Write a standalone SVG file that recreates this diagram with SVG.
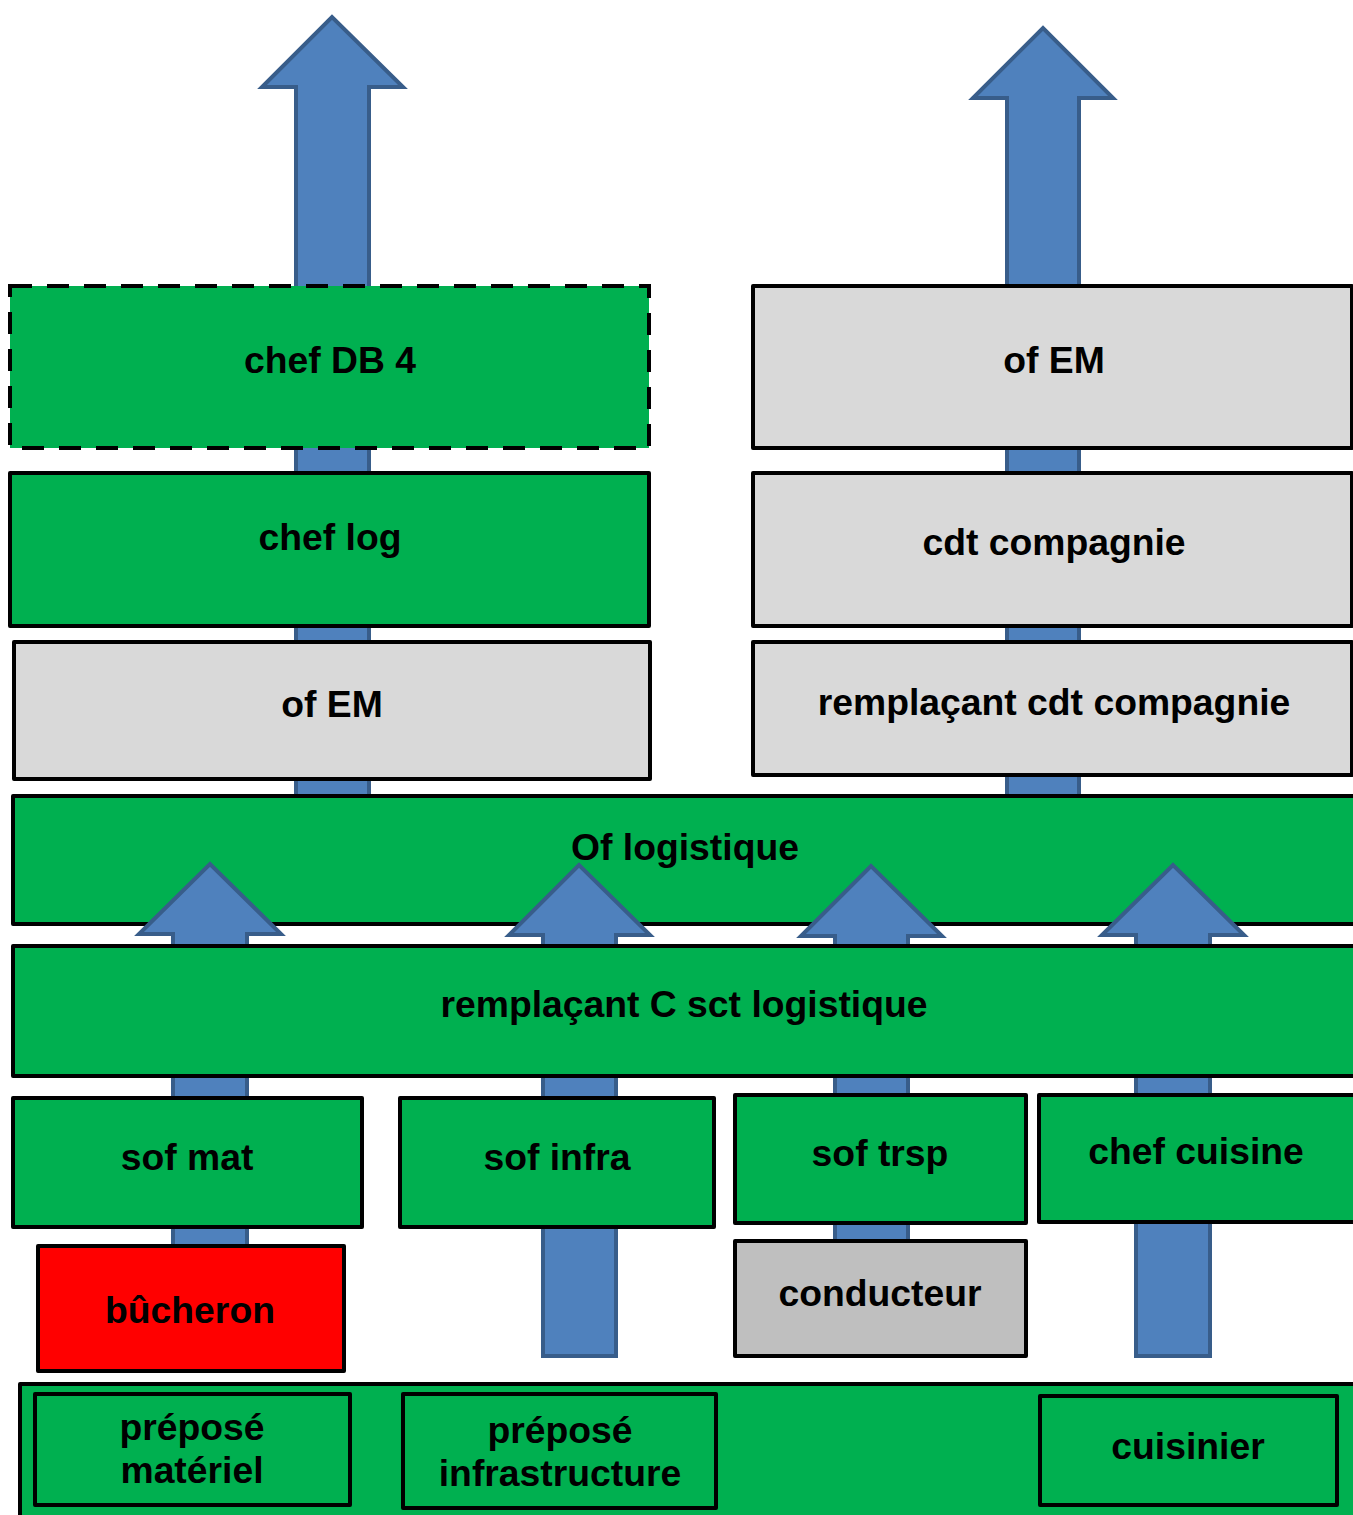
<svg xmlns="http://www.w3.org/2000/svg" width="1353" height="1515" viewBox="0 0 1353 1515">
<style>
.g{fill:#00B050;stroke:#000;stroke-width:4;stroke-linejoin:round}
.l{fill:#D9D9D9;stroke:#000;stroke-width:4;stroke-linejoin:round}
.m{fill:#BFBFBF;stroke:#000;stroke-width:4;stroke-linejoin:round}
.r{fill:#FF0000;stroke:#000;stroke-width:4;stroke-linejoin:round}
.d{stroke-dasharray:22 15;stroke-linejoin:miter}
.a{fill:#4F81BD;stroke:#385D8A;stroke-width:4;stroke-linejoin:miter}
text{font-family:"Liberation Sans",Arial,sans-serif;font-weight:bold;font-size:37.3px;fill:#000;text-anchor:middle}
</style>
<rect width="1353" height="1515" fill="#fff"/>
<g id="of-logistique"><rect class="g" x="13" y="796" width="1345" height="128"/><text x="685" y="860">Of logistique</text></g>
<g id="connectors">
<path class="a" d="M296,794 L296,87 L262,87 L332,17 L403,87 L369,87 L369,794"/>
<path class="a" d="M1007,794 L1007,98 L973,98 L1043,28 L1113,98 L1079,98 L1079,794"/>
<path class="a" d="M173,1300 L173,934 L139,934 L210,864 L281,934 L247,934 L247,1300"/>
<path class="a" d="M543,1356 L543,935 L509,935 L579,865 L650,935 L616,935 L616,1356 Z"/>
<path class="a" d="M835,1300 L835,936 L801,936 L871,866 L942,936 L908,936 L908,1300"/>
<path class="a" d="M1136,1356 L1136,935 L1102,935 L1173,865 L1244,935 L1210,935 L1210,1356 Z"/>
</g>
<g id="chef-db4"><rect class="g d" x="10" y="286" width="639" height="162"/><text x="330" y="373">chef DB 4</text></g>
<g id="chef-log"><rect class="g" x="10" y="473" width="639" height="153"/><text x="330" y="550">chef log</text></g>
<g id="of-em-left"><rect class="l" x="14" y="642" width="636" height="137"/><text x="332" y="717">of EM</text></g>
<g id="of-em-right"><rect class="l" x="753" y="286" width="599" height="162"/><text x="1054" y="373">of EM</text></g>
<g id="cdt-compagnie"><rect class="l" x="753" y="473" width="599" height="153"/><text x="1054" y="555">cdt compagnie</text></g>
<g id="remplacant-cdt"><rect class="l" x="753" y="642" width="599" height="133"/><text x="1054" y="715">remplaçant cdt compagnie</text></g>
<g id="remplacant-c-sct"><rect class="g" x="13" y="946" width="1345" height="130"/><text x="684" y="1017">remplaçant C sct logistique</text></g>
<g id="sof-mat"><rect class="g" x="13" y="1098" width="349" height="129"/><text x="187" y="1170">sof mat</text></g>
<g id="sof-infra"><rect class="g" x="400" y="1098" width="314" height="129"/><text x="557" y="1170">sof infra</text></g>
<g id="sof-trsp"><rect class="g" x="735" y="1095" width="291" height="128"/><text x="880" y="1166">sof trsp</text></g>
<g id="chef-cuisine"><rect class="g" x="1039" y="1095" width="318" height="127"/><text x="1196" y="1164">chef cuisine</text></g>
<g id="bucheron"><rect class="r" x="38" y="1246" width="306" height="125"/><text x="190" y="1323">bûcheron</text></g>
<g id="conducteur"><rect class="m" x="735" y="1241" width="291" height="115"/><text x="880" y="1306">conducteur</text></g>
<g id="base"><rect class="g" x="20" y="1384" width="1340" height="140"/></g>
<g id="prepose-materiel"><rect class="g" x="35" y="1394" width="315" height="111"/><text x="192" y="1440">préposé</text><text x="192" y="1483">matériel</text></g>
<g id="prepose-infra"><rect class="g" x="403" y="1394" width="313" height="114"/><text x="560" y="1443">préposé</text><text x="560" y="1486">infrastructure</text></g>
<g id="cuisinier"><rect class="g" x="1040" y="1396" width="297" height="109"/><text x="1188" y="1459">cuisinier</text></g>
</svg>
